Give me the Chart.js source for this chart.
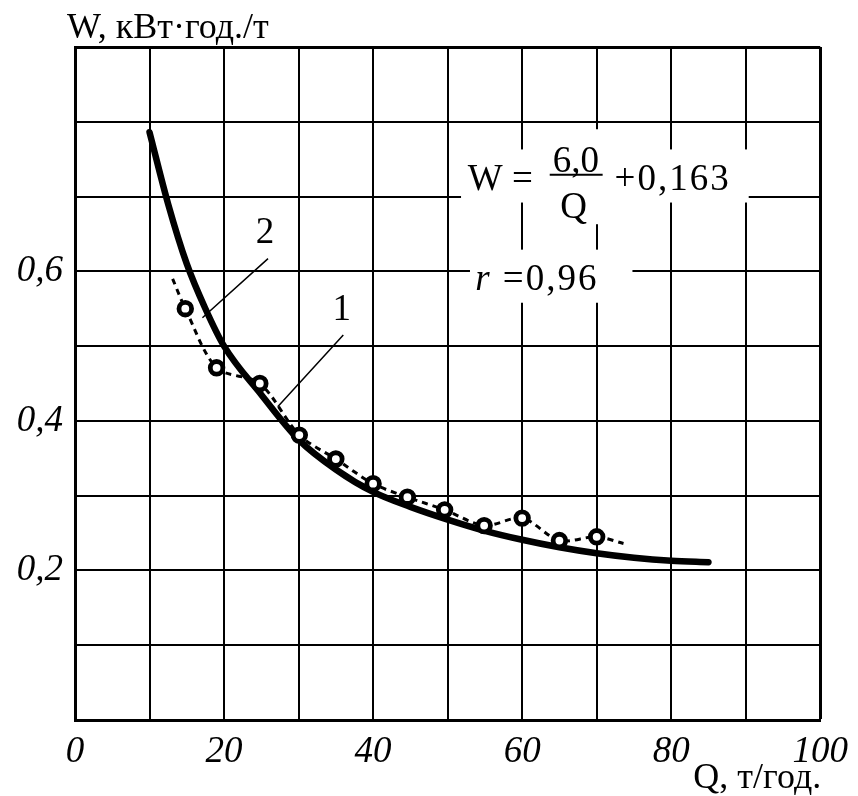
<!DOCTYPE html>
<html>
<head>
<meta charset="utf-8">
<script src="https://cdn.jsdelivr.net/npm/chart.js@4.4.1/dist/chart.umd.min.js"></script>
<style>
  html, body { margin: 0; padding: 0; background: #fff; }
</style>
</head>
<body>
<canvas id="chart" width="858" height="796"></canvas>
<script>
const serif = "'Liberation Serif', 'Times New Roman', serif"

// curve 1: fitted dependence W(Q)
const fitQ = [10, 12.5, 15, 17.5, 20, 25, 30, 35, 40, 45, 50, 55, 60, 65, 70, 75, 80, 85]
const fitW = [0.786, 0.69, 0.61, 0.55, 0.5, 0.435, 0.375, 0.335, 0.305, 0.285, 0.268, 0.253, 0.241, 0.231, 0.223, 0.217, 0.213, 0.211]

// measured points
const markQ = [14.8, 19, 24.8, 30.1, 35, 40, 44.6, 49.6, 54.9, 60, 65, 70]
const markW = [0.55, 0.471, 0.45, 0.381, 0.349, 0.316, 0.298, 0.281, 0.26, 0.27, 0.24, 0.245]

// curve 2: dashed line through the measured points, with its loose ends
const trendStart = [13.1, 0.59]
const trendEnd = [73.6, 0.236]

const xLabels = [0, 20, 40, 60, 80, 100]
const yLabels = [0.2, 0.4, 0.6]

const toPoints = (qs, ws) => qs.map((q, i) => ({ x: q, y: ws[i] }))
const trend = [{ x: trendStart[0], y: trendStart[1] }, ...toPoints(markQ, markW), { x: trendEnd[0], y: trendEnd[1] }]

const notes = {
  id: "notes",
  afterDraw(chart) {
    const { ctx, chartArea: area, scales: { x, y } } = chart
    const px = q => x.getPixelForValue(q)
    const py = w => y.getPixelForValue(w)
    ctx.save()

    // white patches under the formula
    ctx.fillStyle = "#fff"
    const box = (q0, w0, q1, w1) => ctx.fillRect(px(q0), py(w0), px(q1) - px(q0), py(w1) - py(w0))
    box(51.8, 0.763, 90.4, 0.692)
    box(63.2, 0.79, 71.2, 0.663)
    box(53, 0.629, 74.8, 0.558)

    ctx.fillStyle = "#000"
    ctx.strokeStyle = "#000"
    ctx.textBaseline = "alphabetic"
    ctx.font = "37px " + serif

    ctx.textAlign = "left"
    ctx.fillText("W =", px(52.7), py(0.709))
    ctx.letterSpacing = "2px"
    ctx.fillText("+0,163", px(72.4), py(0.709))
    ctx.fillText("=0,96", px(57.4), py(0.575))
    ctx.letterSpacing = "0px"
    ctx.textAlign = "center"
    ctx.fillText("6,0", px(67.2), py(0.733))
    ctx.fillText("Q", px(66.9), py(0.671))
    ctx.lineWidth = 2
    ctx.beginPath()
    ctx.moveTo(px(63.7), py(0.729))
    ctx.lineTo(px(70.8), py(0.729))
    ctx.stroke()

    ctx.textAlign = "left"
    ctx.font = "italic 37px " + serif
    ctx.fillText("r", px(53.7), py(0.575))

    // curve numbers with leader lines
    ctx.font = "37px " + serif
    ctx.textAlign = "center"
    ctx.fillText("1", px(35.8), py(0.535))
    ctx.fillText("2", px(25.5), py(0.638))
    ctx.lineWidth = 1.5
    ctx.beginPath()
    ctx.moveTo(px(36), py(0.515))
    ctx.lineTo(px(27.2), py(0.419))
    ctx.moveTo(px(25.9), py(0.617))
    ctx.lineTo(px(17.1), py(0.538))
    ctx.stroke()

    // axis names
    ctx.font = "36px " + serif
    ctx.textAlign = "left"
    ctx.fillText("W, кВт·год./т", area.left - 8, area.top - 9)
    ctx.textAlign = "right"
    ctx.fillText("Q, т/год.", area.right + 1, area.bottom + 68)
    ctx.restore()
  },
}

const edgeWidth = max => ctx => (Math.abs(ctx.tick.value - max) < 1e-6 ? 3 : 2)

new Chart(document.getElementById("chart"), {
  type: "scatter",
  data: {
    datasets: [
      {
        data: toPoints(markQ, markW),
        pointRadius: 6.3,
        pointBorderWidth: 4.8,
        pointBackgroundColor: "#fff",
        pointBorderColor: "#000",
        order: 0,
      },
      {
        data: trend,
        showLine: true,
        borderColor: "#000",
        borderWidth: 3,
        borderDash: [6, 5],
        tension: 0.3,
        pointRadius: 0,
        order: 1,
      },
      {
        data: toPoints(fitQ, fitW),
        showLine: true,
        borderColor: "#000",
        borderWidth: 6.5,
        borderCapStyle: "round",
        cubicInterpolationMode: "monotone",
        pointRadius: 0,
        order: 2,
      },
    ],
  },
  options: {
    responsive: false,
    animation: false,
    layout: { padding: { top: 47, right: 34, left: 0, bottom: 0 } },
    plugins: { legend: { display: false }, tooltip: { enabled: false } },
    scales: {
      x: {
        min: 0,
        max: 100,
        afterFit: scale => { scale.height = 76 },
        ticks: {
          stepSize: 10,
          padding: 10,
          color: "#000",
          font: { family: serif, size: 37, style: "italic" },
          callback: v => (xLabels.includes(v) ? String(v) : ""),
        },
        grid: { color: "#000", lineWidth: edgeWidth(100), drawTicks: false },
        border: { color: "#000", width: 3 },
      },
      y: {
        min: 0,
        max: 0.9,
        afterFit: scale => { scale.width = 75 },
        ticks: {
          stepSize: 0.1,
          padding: 12,
          color: "#000",
          font: { family: serif, size: 37, style: "italic" },
          callback: v => {
            const hit = yLabels.find(l => Math.abs(l - v) < 1e-6)
            return hit === undefined ? "" : hit.toFixed(1).replace(".", ",")
          },
        },
        grid: { color: "#000", lineWidth: edgeWidth(0.9), drawTicks: false },
        border: { color: "#000", width: 3 },
      },
    },
  },
  plugins: [notes],
})
</script>
</body>
</html>
